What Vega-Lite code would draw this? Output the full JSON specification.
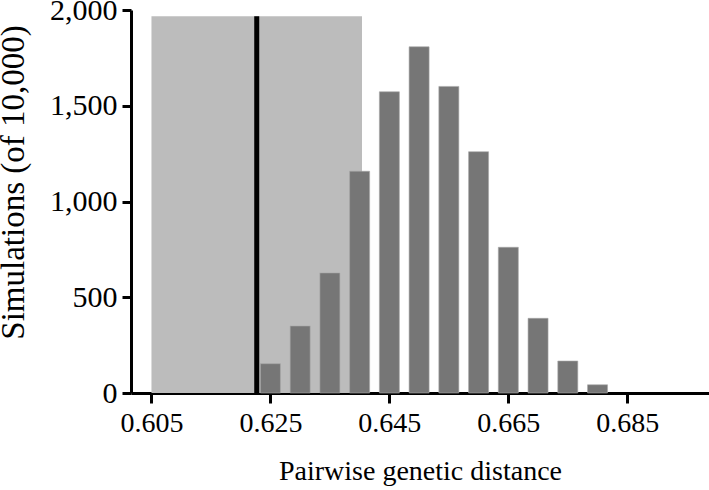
{
  "$schema": "https://vega.github.io/schema/vega-lite/v6.json",
  "width": 578,
  "height": 383,
  "autosize": "none",
  "padding": {"left": 131, "top": 10, "right": 0, "bottom": 97},
  "background": "white",
  "config": {
    "view": {"stroke": null},
    "font": "Liberation Serif",
    "axis": {
      "grid": false,
      "domainColor": "black",
      "domainWidth": 3,
      "tickColor": "black",
      "tickWidth": 3,
      "tickSize": 10,
      "labelFont": "Liberation Serif",
      "labelFontSize": 28,
      "labelColor": "black",
      "titleFont": "Liberation Serif",
      "titleFontSize": 28,
      "titleFontWeight": "normal",
      "titleColor": "black"
    }
  },
  "datasets": {
    "bars": [
      {"distance": 0.625, "count": 153},
      {"distance": 0.630, "count": 350},
      {"distance": 0.635, "count": 627},
      {"distance": 0.640, "count": 1158},
      {"distance": 0.645, "count": 1573},
      {"distance": 0.650, "count": 1808},
      {"distance": 0.655, "count": 1601},
      {"distance": 0.660, "count": 1260},
      {"distance": 0.665, "count": 761},
      {"distance": 0.670, "count": 390},
      {"distance": 0.675, "count": 167},
      {"distance": 0.680, "count": 43}
    ],
    "band": [{"start": 0.605, "end": 0.6404, "bottom": 0, "top": 1968}],
    "observed": [{"distance": 0.6227, "bottom": 0, "top": 1968}]
  },
  "layer": [
    {
      "data": {"name": "band"},
      "mark": {"type": "rect", "color": "#bcbcbc"},
      "encoding": {
        "x": {
          "field": "start",
          "type": "quantitative",
          "scale": {"domain": [0.6024, 0.6979], "nice": false, "zero": false},
          "axis": {
            "values": [0.605, 0.625, 0.645, 0.665, 0.685],
            "format": ".3f",
            "labelPadding": 6,
            "title": "Pairwise genetic distance",
            "titlePadding": 20,
            "titleX": 289
          }
        },
        "x2": {"field": "end"},
        "y": {
          "field": "bottom",
          "type": "quantitative",
          "scale": {"domain": [0, 2000], "nice": false},
          "axis": {
            "values": [0, 500, 1000, 1500, 2000],
            "format": ",d",
            "labelPadding": 5,
            "labelFontSize": 30,
            "tickSize": 9,
            "title": "Simulations (of 10,000)",
            "titleFontSize": 33,
            "titleAngle": -90,
            "titleX": -108,
            "titleY": 172,
            "titleAlign": "center",
            "titleBaseline": "alphabetic"
          }
        },
        "y2": {"field": "top"}
      }
    },
    {
      "data": {"name": "bars"},
      "mark": {"type": "bar", "width": 20, "color": "#767676", "stroke": "#a8a8a8", "strokeWidth": 0.6},
      "encoding": {
        "x": {"field": "distance", "type": "quantitative"},
        "y": {"field": "count", "type": "quantitative"}
      }
    },
    {
      "data": {"name": "observed"},
      "mark": {"type": "rule", "color": "black", "strokeWidth": 5},
      "encoding": {
        "x": {"field": "distance", "type": "quantitative"},
        "y": {"field": "bottom", "type": "quantitative"},
        "y2": {"field": "top"}
      }
    }
  ]
}
